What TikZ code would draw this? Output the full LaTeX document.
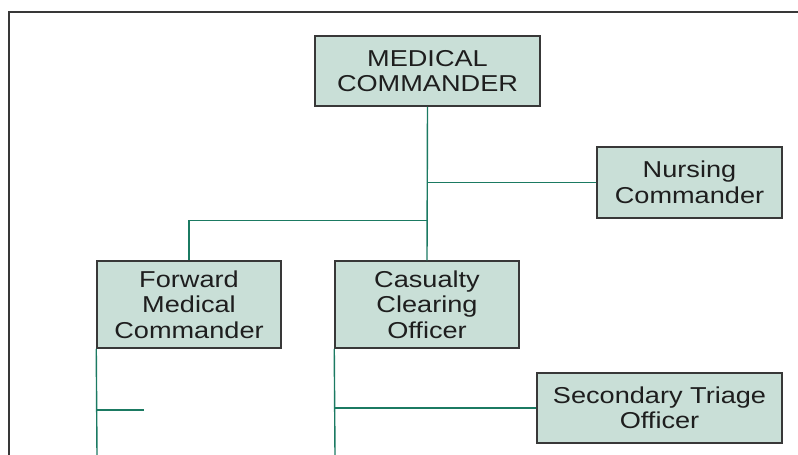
\documentclass[tikz,border=0pt]{standalone}
\usepackage{fontspec}
\setmainfont{Liberation Sans}[FakeStretch=1.18]
\definecolor{boxfill}{HTML}{C9DFD7}
\definecolor{boxedge}{HTML}{383838}
\definecolor{linkteal}{HTML}{1B7A62}
\definecolor{inktext}{HTML}{1E1E1E}
\begin{document}
\begin{tikzpicture}[x=1pt,y=-1pt,
  role/.style={draw=boxedge, fill=boxfill, line width=1.5pt, align=center,
    text=inktext, inner sep=0pt,
    font=\fontsize{23}{25.5}\selectfont},
  link/.style={draw=linkteal, line width=1.4pt},
  frameline/.style={draw=boxedge, line width=1.4pt}]
  \useasboundingbox (0,0) rectangle (798,455);
  % outer frame (left and top edges only)
  \draw[frameline] (9,455) -- (9,12) -- (798,12);

  % role boxes
  \node[role, minimum width=225pt, minimum height=70pt] (mc) at (427.5,71) {MEDICAL\\COMMANDER};
  \node[role, minimum width=185pt, minimum height=71pt] (nc) at (689.5,182.5) {Nursing\\Commander};
  \node[role, minimum width=184pt, minimum height=87pt] (fmc) at (189,304.5) {Forward\\Medical\\Commander};
  \node[role, minimum width=184pt, minimum height=87pt] (cco) at (427,304.5) {Casualty\\Clearing\\Officer};
  \node[role, minimum width=245pt, minimum height=70pt] (sto) at (659.5,408) {Secondary Triage\\Officer};

  % free ends of the open branches
  \coordinate (fmcend) at (97,455);
  \coordinate (fmcstub) at (144,410);
  \coordinate (ccoend) at (335,455);

  % connectors
  \draw[link] (mc.south) -- (cco.north);
  \draw[link] (mc.south |- nc.west) -- (nc.west);
  \draw[link] (mc.south |- 0,220.5) -| (fmc.north);
  \draw[link] (fmc.south west) -- (fmcend);
  \draw[link] (fmc.south west |- fmcstub) -- (fmcstub);
  \draw[link] (cco.south west) -- (ccoend);
  \draw[link] (cco.south west |- sto.west) -- (sto.west);
\end{tikzpicture}
\end{document}
